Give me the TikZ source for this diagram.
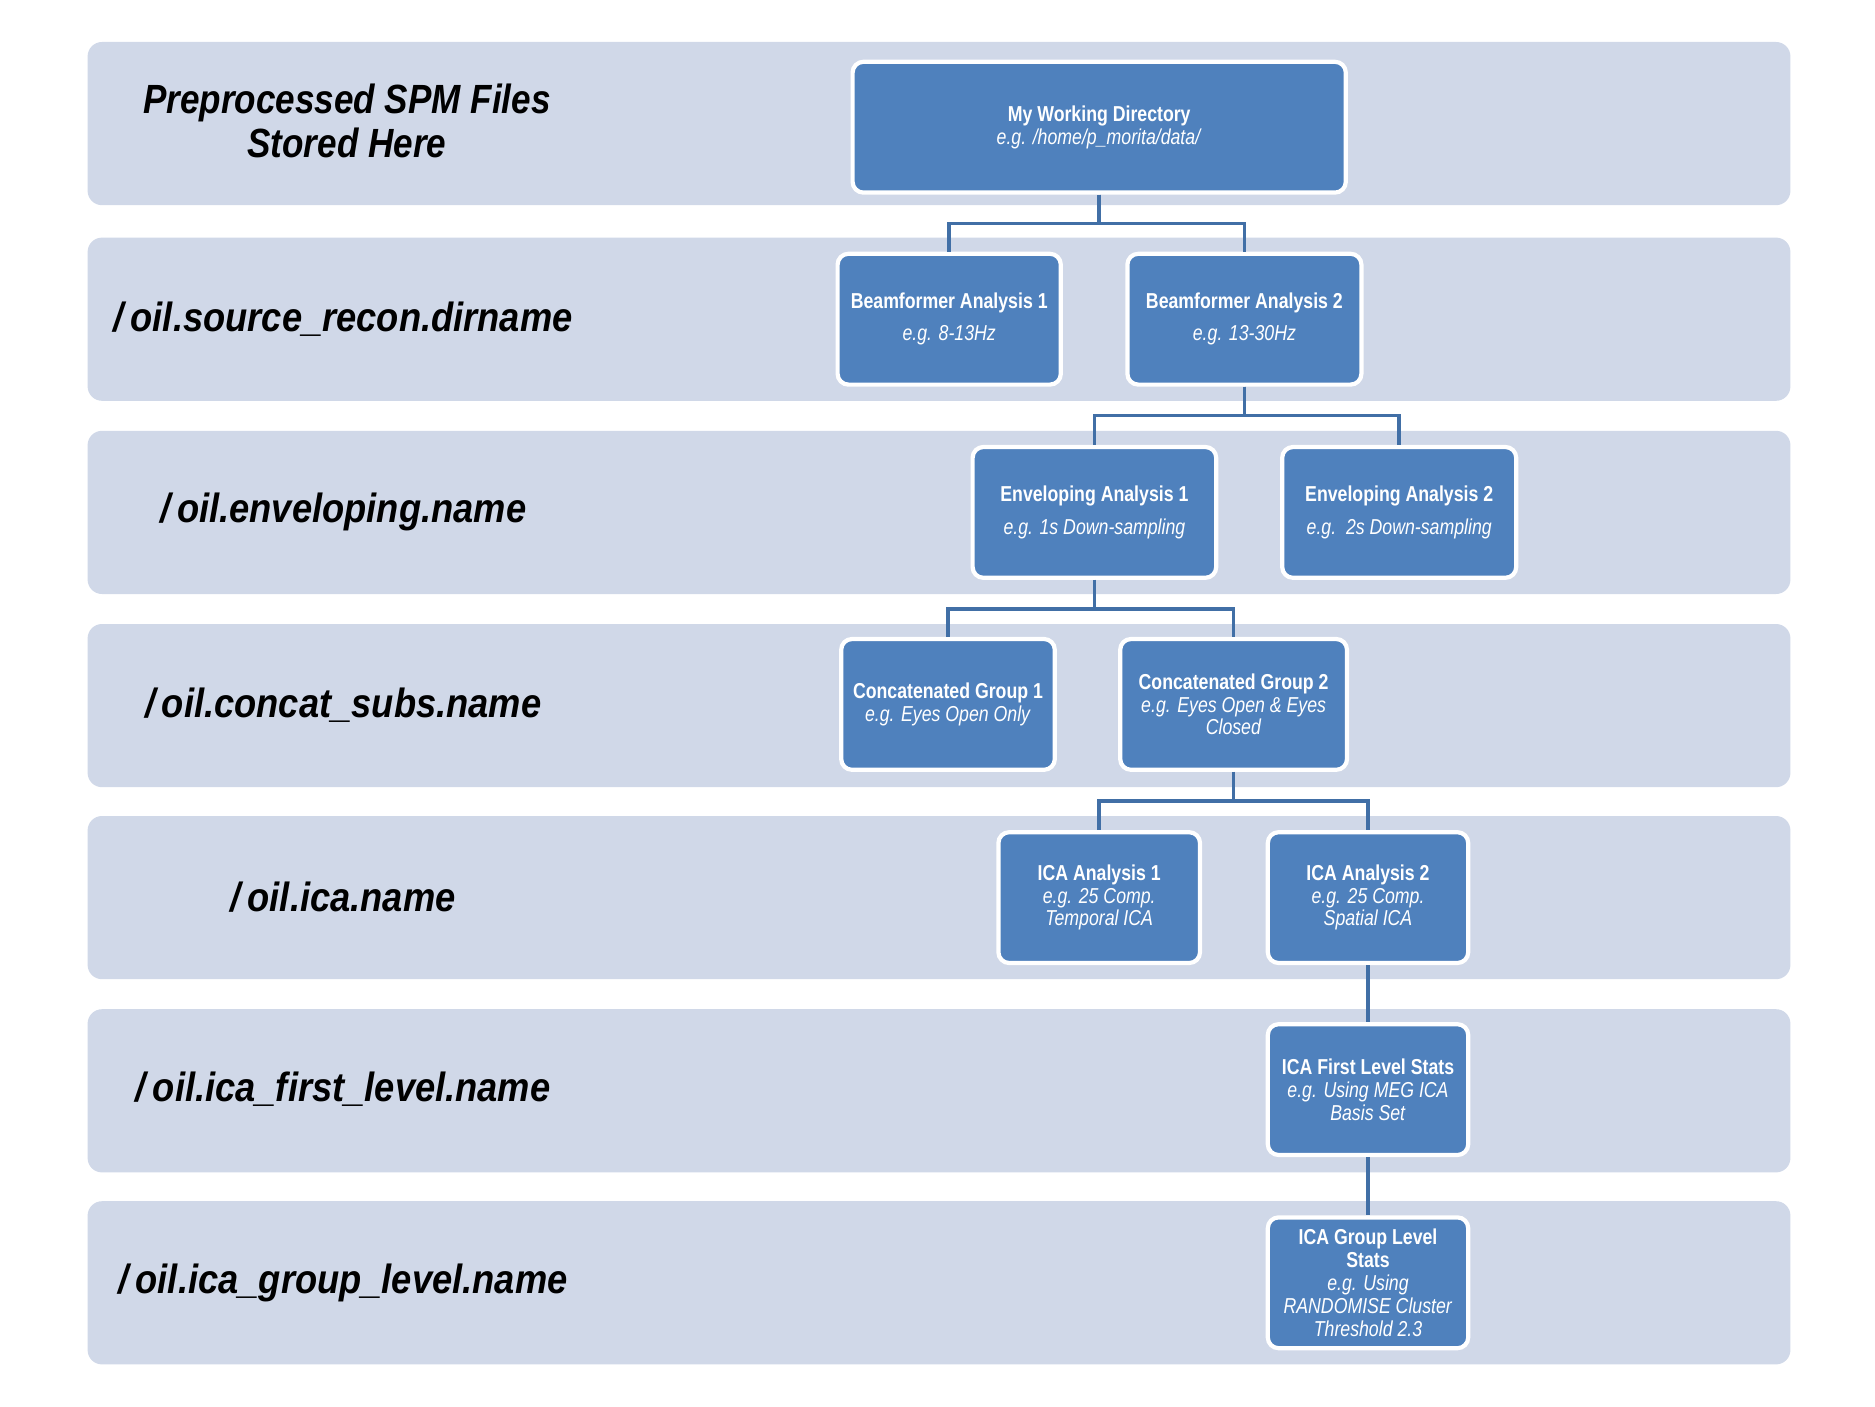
\documentclass[tikz,border=0pt]{standalone}
\usepackage{fontspec}
\setmainfont{Liberation Sans}
\newfontfamily\boxfont[FakeStretch=0.82]{Liberation Sans}
\newfontfamily\lblfont[FakeStretch=0.86]{Liberation Sans}
\newfontfamily\pathfont[FakeStretch=0.89]{Liberation Sans}
\usetikzlibrary{positioning}

\definecolor{bandgray}{HTML}{D0D8E8}
\definecolor{boxblue}{HTML}{4F81BD}
\definecolor{linkblue}{HTML}{416FA6}

\tikzset{
  band/.style={fill=bandgray, rounded corners=12pt},
  dirbox/.style={draw=white, line width=3.5pt, fill=boxblue, rounded corners=9pt,
    text=white, align=center, inner sep=0pt, minimum height=109pt,
    font=\boxfont\fontsize{18}{19}\selectfont},
  lbl/.style={align=center, font=\lblfont\bfseries\itshape\fontsize{34}{37}\selectfont},
  pathlbl/.style={lbl, font=\pathfont\bfseries\itshape\fontsize{34}{37}\selectfont},
  link/.style={draw=linkblue, line width=3pt}
}

\begin{document}
\begin{tikzpicture}[x=1pt,y=-1pt]
       \useasboundingbox (0,0) rectangle (1562.5,1171.7);

       %grey bands
       \foreach \ytop in {35,198,359,520,680,841,1001}
         \path[band] (73,\ytop) rectangle (1492,\ytop+136);

       %left labels
       \node[lbl] (lroot) at (289,101) {Preprocessed SPM Files\\Stored Here};
       \node[pathlbl] (lsrc)  at (286,266) {/\,oil.source\_recon.dirname};
       \node[pathlbl] (lenv)  at (286,427) {/\,oil.enveloping.name};
       \node[pathlbl] (lcat)  at (286,588) {/\,oil.concat\_subs.name};
       \node[pathlbl] (lica)  at (286,748) {/\,oil.ica.name};
       \node[pathlbl] (lfst)  at (286,908) {/\,oil.ica\_first\_level.name};
       \node[pathlbl] (lgrp)  at (286,1069) {/\,oil.ica\_group\_level.name};

       %directory boxes
       \node[dirbox, minimum width=411pt, minimum height=109pt] (root) at (916,106)
         {\textbf{My Working Directory}\\\textit{e.g. /home/p\_morita/data/}};

       \node[dirbox, minimum width=186pt] (beam1) at (791,266)
         {\textbf{Beamformer Analysis 1}\\[8pt]\textit{e.g. 8-13Hz}};
       \node[dirbox, minimum width=195pt] (beam2) at (1037,266)
         {\textbf{Beamformer Analysis 2}\\[8pt]\textit{e.g. 13-30Hz}};

       \node[dirbox, minimum width=203pt] (env1) at (912,427)
         {\textbf{Enveloping Analysis 1}\\[8pt]\textit{e.g. 1s Down-sampling}};
       \node[dirbox, minimum width=195pt] (env2) at (1166,427)
         {\textbf{Enveloping Analysis 2}\\[8pt]\textit{e.g.\ \ 2s Down-sampling}};

       \node[dirbox, minimum width=178pt] (cat1) at (790,587)
         {\textbf{Concatenated Group 1}\\\textit{e.g. Eyes Open Only}};
       \node[dirbox, minimum width=189pt] (cat2) at (1028,587)
         {\textbf{Concatenated Group 2}\\\textit{e.g. Eyes Open \& Eyes}\\\textit{Closed}};

       \node[dirbox, minimum width=168pt] (ica1) at (916,748)
         {\textbf{ICA Analysis 1}\\\textit{e.g. 25 Comp.}\\\textit{Temporal ICA}};
       \node[dirbox, minimum width=167pt] (ica2) at (1140,748)
         {\textbf{ICA Analysis 2}\\\textit{e.g. 25 Comp.}\\\textit{Spatial ICA}};

       \node[dirbox, minimum width=167pt] (first) at (1140,908)
         {\textbf{ICA First Level Stats}\\\textit{e.g. Using MEG ICA}\\\textit{Basis Set}};

       \node[dirbox, minimum width=167pt] (group) at (1140,1069)
         {\textbf{ICA Group Level}\\\textbf{Stats}\\\textit{e.g. Using}\\\textit{RANDOMISE Cluster}\\\textit{Threshold 2.3}};

       %connectors
       \draw[link] (root.south) -- ++(0,24) -| (beam1.north);
       \draw[link] (root.south) -- ++(0,24) -| (beam2.north);
       \draw[link] (beam2.south) -- ++(0,24) -| (env1.north);
       \draw[link] (beam2.south) -- ++(0,24) -| (env2.north);
       \draw[link] (env1.south) -- ++(0,24) -| (cat1.north);
       \draw[link] (env1.south) -- ++(0,24) -| (cat2.north);
       \draw[link] (cat2.south) -- ++(0,24) -| (ica1.north);
       \draw[link] (cat2.south) -- ++(0,24) -| (ica2.north);
       \draw[link] (ica2.south) -- (first.north);
       \draw[link] (first.south) -- (group.north);

\end{tikzpicture}
\end{document}
